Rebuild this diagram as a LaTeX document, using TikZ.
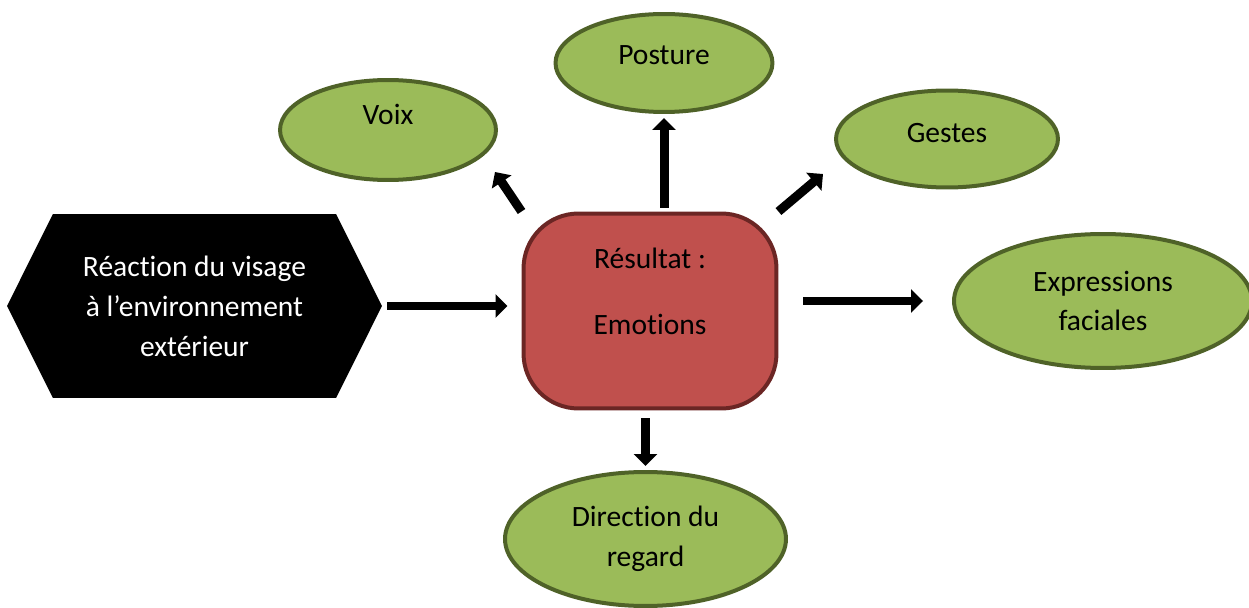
\documentclass[tikz,border=0pt]{standalone}
\usepackage{fontspec}
\setmainfont{Carlito}[Ligatures={NoCommon,NoRequired,NoContextual}]
\usetikzlibrary{arrows.meta}
\usetikzlibrary{shapes.geometric}
\usetikzlibrary{shapes.symbols}

\definecolor{leaffill}{HTML}{9BBB59}
\definecolor{leafline}{HTML}{4F6228}
\definecolor{resfill}{HTML}{C0504D}
\definecolor{resline}{HTML}{6B2624}

\begin{document}
\begin{tikzpicture}[x=0.02cm,y=-0.02cm,>/.tip={Triangle[length=0.24cm,width=0.46cm]},
	font=\fontsize{16.8}{22.7}\selectfont,
	leaf/.style={draw=leafline,fill=leaffill,line width=0.08cm,shape=ellipse,align=center,inner sep=0pt},
	arrow/.style={->,line width=0.18cm}]
	\useasboundingbox (0,0) rectangle (1249,608);
	\draw (194.5,306) node (hex) [shape=signal,signal to=west and east,signal pointer angle=127,fill=black,text=white,minimum width=7.5cm,minimum height=3.68cm,align=center] {Réaction du visage\\à l’environnement\\extérieur};
	\draw (650,311) node (res) [draw=resline,fill=resfill,line width=0.08cm,rounded corners=1.1cm,minimum width=5.06cm,minimum height=3.9cm,align=center,text height=1.74cm,text depth=0.78cm] {Résultat :\\[0.54cm]Emotions};
	\draw (388,130) node (voix) [leaf,minimum width=4.32cm,minimum height=2cm,text height=0.35cm,text depth=0.59cm] {Voix};
	\draw (664,63) node (posture) [leaf,minimum width=4.34cm,minimum height=1.96cm,text height=0.35cm,text depth=0.27cm] {Posture};
	\draw (947,139) node (gestes) [leaf,minimum width=4.44cm,minimum height=1.94cm,text height=0.35cm,text depth=0.19cm] {Gestes};
	\draw (1103,301) node (expr) [leaf,minimum width=5.96cm,minimum height=2.68cm] {Expressions\\faciales};
	\draw (645.5,539) node (regard) [leaf,minimum width=5.62cm,minimum height=2.68cm] {Direction du\\regard};
	\coordinate (voixtip) at (495,172);
	\coordinate (gestestip) at (823,174);
	\draw[arrow,shorten <=0.1cm,shorten >=0.28cm] (hex.east) -- (hex.east -| res.west);
	\draw[arrow] (res.north west) -- (voixtip);
	\draw[arrow,shorten <=0.08cm,shorten >=0.08cm] (posture.south |- res.north) -- (posture.south);
	\draw[arrow] (res.north east) -- (gestestip);
	\draw[arrow,shorten <=0.5cm,shorten >=0.58cm] (res.east |- expr.west) -- (expr.west);
	\draw[arrow,shorten <=0.16cm,shorten >=0.08cm] (regard.north |- res.south) -- (regard.north);
\end{tikzpicture}
\end{document}
